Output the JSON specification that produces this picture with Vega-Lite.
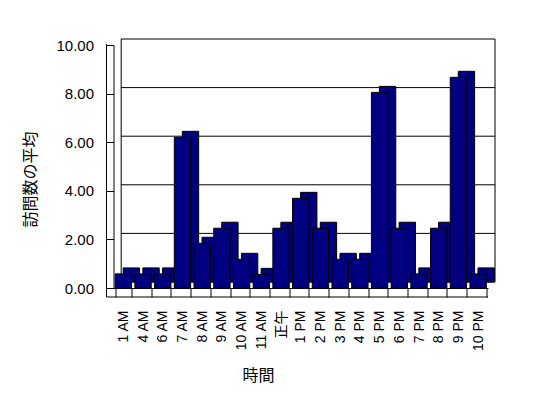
{
  "$schema": "https://vega.github.io/schema/vega-lite/v6.json",
  "width": 374.5,
  "height": 243,
  "autosize": {"type": "none"},
  "padding": {"left": 113.5, "top": 45, "right": 60, "bottom": 110},
  "background": "white",
  "config": {
    "view": {"stroke": null},
    "font": "Liberation Sans",
    "axisY": {
      "grid": false, "domainColor": "black", "tickColor": "black", "tickSize": 7, "labelPadding": 13,
      "labelFontSize": 15, "labelFont": "Liberation Sans", "labelColor": "black",
      "titleFont": "Noto Sans CJK JP", "titleFontSize": 16, "titleFontWeight": "normal", "titleColor": "black",
      "titleX": -83.5, "titleY": 134, "titleAngle": 270, "titleAlign": "center", "titleBaseline": "middle"
    },
    "axisX": {
      "tickBand": "extent", "tickSize": 9, "tickColor": "black", "domainColor": "black",
      "labelAngle": 270, "labelAlign": "right", "labelBaseline": "middle", "labelPadding": 13,
      "labelFontSize": 14, "labelFont": "Liberation Sans, Noto Sans CJK JP", "labelColor": "black", "labelOverlap": false,
      "titleFont": "Noto Sans CJK JP", "titleFontSize": 16, "titleFontWeight": "normal", "titleColor": "black",
      "titleX": 144.5, "titleY": 87, "titleAlign": "center", "titleBaseline": "middle"
    }
  },
  "datasets": {
    "visits": [
      {"hour": "1 AM", "v": 0.58},
      {"hour": "4 AM", "v": 0.58},
      {"hour": "6 AM", "v": 0.58},
      {"hour": "7 AM", "v": 6.2},
      {"hour": "8 AM", "v": 1.84},
      {"hour": "9 AM", "v": 2.46},
      {"hour": "10 AM", "v": 1.18},
      {"hour": "11 AM", "v": 0.56},
      {"hour": "正午", "v": 2.46},
      {"hour": "1 PM", "v": 3.69},
      {"hour": "2 PM", "v": 2.46},
      {"hour": "3 PM", "v": 1.18},
      {"hour": "4 PM", "v": 1.18},
      {"hour": "5 PM", "v": 8.05},
      {"hour": "6 PM", "v": 2.46},
      {"hour": "7 PM", "v": 0.58},
      {"hour": "8 PM", "v": 2.46},
      {"hour": "9 PM", "v": 8.67},
      {"hour": "10 PM", "v": 0.58}
    ],
    "one": [{"v": 0}],
    "grid": [{"v": 0}, {"v": 2}, {"v": 4}, {"v": 6}, {"v": 8}, {"v": 10}]
  },
  "layer": [
    {
      "data": {"name": "grid"},
      "mark": {"type": "rule", "color": "black", "strokeWidth": 1, "xOffset": 5.8, "x2Offset": 16.9, "yOffset": -6, "y2Offset": -6},
      "encoding": {
        "x": {"datum": "1 AM", "type": "nominal", "bandPosition": 0, "title": "時間",
          "scale": {"domain": ["1 AM","4 AM","6 AM","7 AM","8 AM","9 AM","10 AM","11 AM","正午","1 PM","2 PM","3 PM","4 PM","5 PM","6 PM","7 PM","8 PM","9 PM","10 PM"], "paddingInner": 0.17, "paddingOuter": 0.085}},
        "x2": {"datum": "10 PM"},
        "y": {"field": "v", "type": "quantitative", "scale": {"domain": [0, 10]}, "title": "訪問数の平均", "axis": {"values": [0, 2, 4, 6, 8, 10], "format": ".2f"}}
      }
    },
    {
      "data": {"name": "one"},
      "mark": {"type": "rule", "color": "black", "strokeWidth": 1, "xOffset": 6, "yOffset": -6, "y2Offset": -6},
      "encoding": {
        "x": {"datum": "1 AM", "type": "nominal", "bandPosition": 0, "title": "時間",
          "scale": {"domain": ["1 AM","4 AM","6 AM","7 AM","8 AM","9 AM","10 AM","11 AM","正午","1 PM","2 PM","3 PM","4 PM","5 PM","6 PM","7 PM","8 PM","9 PM","10 PM"], "paddingInner": 0.17, "paddingOuter": 0.085}},
        "y": {"datum": 0, "type": "quantitative", "scale": {"domain": [0, 10]}, "title": "訪問数の平均", "axis": {"values": [0, 2, 4, 6, 8, 10], "format": ".2f"}},
        "y2": {"datum": 10}
      }
    },
    {
      "data": {"name": "one"},
      "mark": {"type": "rule", "color": "black", "strokeWidth": 1, "xOffset": 8.7, "yOffset": -6, "y2Offset": -6},
      "encoding": {
        "x": {"datum": "10 PM", "type": "nominal", "bandPosition": 1, "title": "時間",
          "scale": {"domain": ["1 AM","4 AM","6 AM","7 AM","8 AM","9 AM","10 AM","11 AM","正午","1 PM","2 PM","3 PM","4 PM","5 PM","6 PM","7 PM","8 PM","9 PM","10 PM"], "paddingInner": 0.17, "paddingOuter": 0.085}},
        "y": {"datum": 0, "type": "quantitative", "scale": {"domain": [0, 10]}, "title": "訪問数の平均", "axis": {"values": [0, 2, 4, 6, 8, 10], "format": ".2f"}},
        "y2": {"datum": 10}
      }
    },
    {
      "data": {"name": "visits"},
      "mark": {"type": "bar", "color": "#000080", "stroke": "black", "strokeWidth": 1, "xOffset": 8, "x2Offset": 8, "yOffset": -6, "y2Offset": -6},
      "encoding": {
        "x": {"field": "hour", "type": "nominal", "title": "時間",
          "scale": {"domain": ["1 AM","4 AM","6 AM","7 AM","8 AM","9 AM","10 AM","11 AM","正午","1 PM","2 PM","3 PM","4 PM","5 PM","6 PM","7 PM","8 PM","9 PM","10 PM"], "paddingInner": 0.17, "paddingOuter": 0.085}},
        "y": {"field": "v", "type": "quantitative", "scale": {"domain": [0, 10]}, "title": "訪問数の平均", "axis": {"values": [0, 2, 4, 6, 8, 10], "format": ".2f"}}
      }
    },
    {
      "data": {"name": "visits"},
      "mark": {"type": "bar", "color": "#000080", "stroke": "black", "strokeWidth": 1},
      "encoding": {
        "x": {"field": "hour", "type": "nominal", "title": "時間",
          "scale": {"domain": ["1 AM","4 AM","6 AM","7 AM","8 AM","9 AM","10 AM","11 AM","正午","1 PM","2 PM","3 PM","4 PM","5 PM","6 PM","7 PM","8 PM","9 PM","10 PM"], "paddingInner": 0.17, "paddingOuter": 0.085}},
        "y": {"field": "v", "type": "quantitative", "scale": {"domain": [0, 10]}, "title": "訪問数の平均", "axis": {"values": [0, 2, 4, 6, 8, 10], "format": ".2f"}}
      }
    },
    {
      "data": {"name": "one"},
      "mark": {"type": "rule", "color": "black", "strokeWidth": 1, "xOffset": -8.7, "x2Offset": 9.9, "yOffset": 9, "y2Offset": 9},
      "encoding": {
        "x": {"datum": "1 AM", "type": "nominal", "bandPosition": 0, "title": "時間",
          "scale": {"domain": ["1 AM","4 AM","6 AM","7 AM","8 AM","9 AM","10 AM","11 AM","正午","1 PM","2 PM","3 PM","4 PM","5 PM","6 PM","7 PM","8 PM","9 PM","10 PM"], "paddingInner": 0.17, "paddingOuter": 0.085}},
        "x2": {"datum": "10 PM"},
        "y": {"datum": 0, "type": "quantitative", "scale": {"domain": [0, 10]}, "title": "訪問数の平均", "axis": {"values": [0, 2, 4, 6, 8, 10], "format": ".2f"}}
      }
    },
    {
      "data": {"name": "one"},
      "mark": {"type": "rule", "color": "black", "strokeWidth": 1, "xOffset": -8.7, "yOffset": 9, "y2Offset": -1},
      "encoding": {
        "x": {"datum": "1 AM", "type": "nominal", "bandPosition": 0, "title": "時間",
          "scale": {"domain": ["1 AM","4 AM","6 AM","7 AM","8 AM","9 AM","10 AM","11 AM","正午","1 PM","2 PM","3 PM","4 PM","5 PM","6 PM","7 PM","8 PM","9 PM","10 PM"], "paddingInner": 0.17, "paddingOuter": 0.085}},
        "y": {"datum": 0, "type": "quantitative", "scale": {"domain": [0, 10]}, "title": "訪問数の平均", "axis": {"values": [0, 2, 4, 6, 8, 10], "format": ".2f"}},
        "y2": {"datum": 10}
      }
    }
  ]
}
